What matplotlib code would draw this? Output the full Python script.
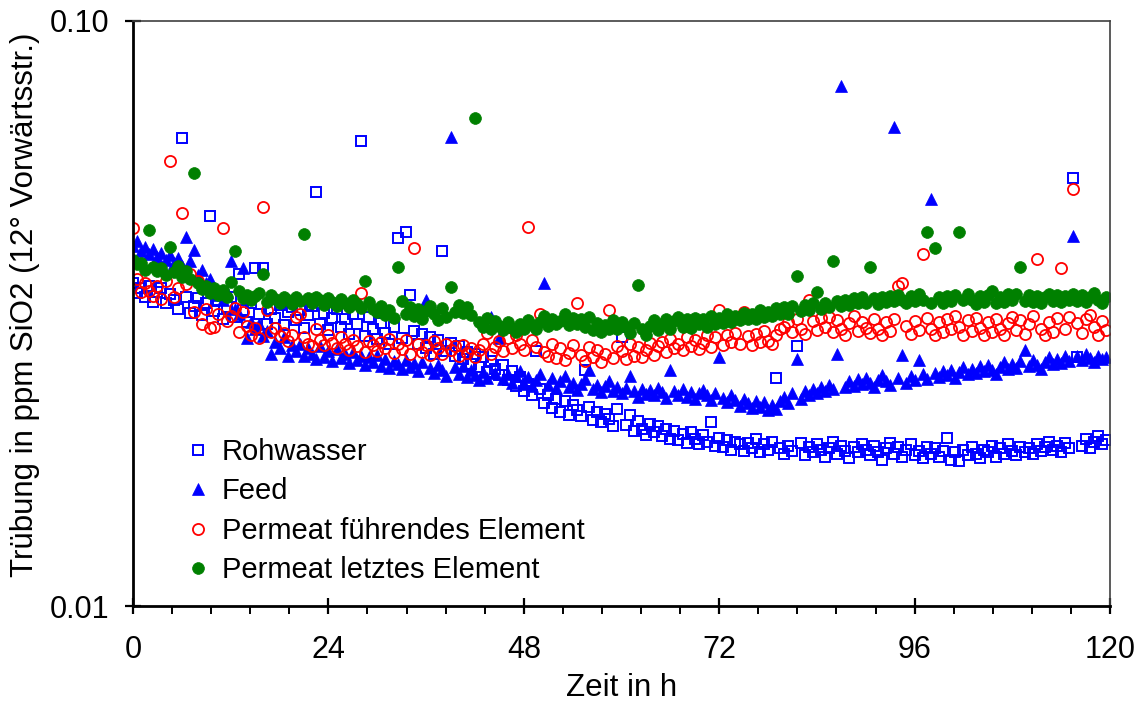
import numpy as np
import matplotlib
matplotlib.use("Agg")
import matplotlib.pyplot as plt
from matplotlib.ticker import FixedLocator, MultipleLocator, NullLocator

plt.rcParams['font.family'] = ['Liberation Sans', 'DejaVu Sans']

# Sampling every half hour, 0 ... 119.5 h
step_h = 0.5

rohwasser = [
    0.0356, 0.0343, 0.0349, 0.0337, 0.0352, 0.0331, 0.0344, 0.0350, 0.0329, 0.0341,
    0.0333, 0.0322, 0.0630, 0.0338, 0.0317, 0.0326, 0.0336, 0.0314, 0.0329, 0.0464,
    0.0319, 0.0333, 0.0309, 0.0324, 0.0338, 0.0312, 0.0370, 0.0321, 0.0306, 0.0330,
    0.0378, 0.0315, 0.0378, 0.0304, 0.0322, 0.0311, 0.0327, 0.0302, 0.0318, 0.0325,
    0.0308, 0.0320, 0.0299, 0.0314, 0.0326, 0.0510, 0.0303, 0.0317, 0.0296, 0.0311,
    0.0322, 0.0300, 0.0309, 0.0292, 0.0316, 0.0304, 0.0623, 0.0289, 0.0312, 0.0298,
    0.0286, 0.0305, 0.0293, 0.0280, 0.0300, 0.0426, 0.0287, 0.0436, 0.0340, 0.0295,
    0.0281, 0.0292, 0.0276, 0.0288, 0.0270, 0.0285, 0.0405, 0.0273, 0.0282, 0.0267,
    0.0278, 0.0264, 0.0272, 0.0259, 0.0270, 0.0256, 0.0266, 0.0251, 0.0262, 0.0254,
    0.0248, 0.0258, 0.0243, 0.0252, 0.0238, 0.0246, 0.0233, 0.0240, 0.0229, 0.0273,
    0.0235, 0.0222, 0.0229, 0.0218, 0.0226, 0.0215, 0.0224, 0.0212, 0.0221, 0.0216,
    0.0211, 0.0253, 0.0219, 0.0208, 0.0215, 0.0206, 0.0213, 0.0209, 0.0203, 0.0217,
    0.0288, 0.0204, 0.0212, 0.0199, 0.0207, 0.0201, 0.0196, 0.0205, 0.0198, 0.0203,
    0.0195, 0.0201, 0.0193, 0.0199, 0.0192, 0.0197, 0.0190, 0.0198, 0.0193, 0.0189,
    0.0196, 0.0191, 0.0206, 0.0188, 0.0194, 0.0187, 0.0192, 0.0185, 0.0191, 0.0189,
    0.0184, 0.0190, 0.0186, 0.0193, 0.0183, 0.0189, 0.0185, 0.0191, 0.0245, 0.0186,
    0.0182, 0.0188, 0.0184, 0.0278, 0.0190, 0.0181, 0.0187, 0.0183, 0.0189, 0.0185,
    0.0180, 0.0186, 0.0191, 0.0182, 0.0188, 0.0184, 0.0179, 0.0187, 0.0183, 0.0189,
    0.0185, 0.0181, 0.0188, 0.0183, 0.0178, 0.0186, 0.0190, 0.0182, 0.0187, 0.0180,
    0.0185, 0.0189, 0.0181, 0.0184, 0.0179, 0.0187, 0.0182, 0.0186, 0.0180, 0.0184,
    0.0194, 0.0178, 0.0183, 0.0177, 0.0185, 0.0181, 0.0187, 0.0182, 0.0179, 0.0185,
    0.0183, 0.0188, 0.0180, 0.0186, 0.0182, 0.0189, 0.0184, 0.0181, 0.0187, 0.0183,
    0.0186, 0.0182, 0.0189, 0.0184, 0.0187, 0.0191, 0.0185, 0.0188, 0.0183, 0.0190,
    0.0186, 0.0540, 0.0266, 0.0188, 0.0193, 0.0186, 0.0191, 0.0195, 0.0189, 0.0192,
]

feed = [
    0.0413, 0.0420, 0.0404, 0.0411, 0.0399, 0.0407, 0.0395, 0.0402, 0.0390, 0.0398,
    0.0386, 0.0394, 0.0381, 0.0427, 0.0389, 0.0406, 0.0368, 0.0376, 0.0356, 0.0362,
    0.0349, 0.0340, 0.0333, 0.0344, 0.0389, 0.0322, 0.0315, 0.0378, 0.0287, 0.0306,
    0.0298, 0.0303, 0.0289, 0.0295, 0.0270, 0.0283, 0.0276, 0.0288, 0.0268, 0.0279,
    0.0273, 0.0281, 0.0267, 0.0276, 0.0270, 0.0264, 0.0278, 0.0266, 0.0273, 0.0262,
    0.0275, 0.0265, 0.0270, 0.0260, 0.0272, 0.0263, 0.0268, 0.0258, 0.0266, 0.0261,
    0.0269, 0.0257, 0.0264, 0.0255, 0.0262, 0.0259, 0.0254, 0.0263, 0.0256, 0.0260,
    0.0252, 0.0261, 0.0333, 0.0255, 0.0250, 0.0258, 0.0253, 0.0247, 0.0634, 0.0256,
    0.0249, 0.0257, 0.0246, 0.0253, 0.0248, 0.0243, 0.0251, 0.0245, 0.0312, 0.0250,
    0.0287, 0.0244, 0.0249, 0.0241, 0.0247, 0.0252, 0.0240, 0.0246, 0.0238, 0.0243,
    0.0249, 0.0357, 0.0239, 0.0245, 0.0236, 0.0242, 0.0247, 0.0237, 0.0241, 0.0234,
    0.0240, 0.0244, 0.0253, 0.0235, 0.0239, 0.0232, 0.0238, 0.0242, 0.0233, 0.0237,
    0.0231, 0.0236, 0.0247, 0.0233, 0.0228, 0.0235, 0.0230, 0.0234, 0.0229, 0.0236,
    0.0232, 0.0227, 0.0253, 0.0233, 0.0229, 0.0235, 0.0228, 0.0232, 0.0226, 0.0231,
    0.0234, 0.0229, 0.0225, 0.0231, 0.0266, 0.0227, 0.0223, 0.0229, 0.0225, 0.0220,
    0.0226, 0.0222, 0.0218, 0.0224, 0.0219, 0.0223, 0.0216, 0.0221, 0.0217, 0.0224,
    0.0228, 0.0222, 0.0231, 0.0264, 0.0226, 0.0233, 0.0229, 0.0235, 0.0231, 0.0237,
    0.0233, 0.0239, 0.0235, 0.0270, 0.0774, 0.0237, 0.0242, 0.0238, 0.0244, 0.0240,
    0.0245, 0.0241, 0.0237, 0.0243, 0.0248, 0.0242, 0.0239, 0.0660, 0.0245, 0.0269,
    0.0241, 0.0247, 0.0243, 0.0263, 0.0249, 0.0244, 0.0496, 0.0250, 0.0246, 0.0252,
    0.0248, 0.0253, 0.0245, 0.0251, 0.0256, 0.0249, 0.0254, 0.0250, 0.0257, 0.0252,
    0.0258, 0.0253, 0.0249, 0.0256, 0.0261, 0.0254, 0.0259, 0.0255, 0.0262, 0.0274,
    0.0257, 0.0263, 0.0258, 0.0254, 0.0261, 0.0266, 0.0259, 0.0264, 0.0260, 0.0267,
    0.0262, 0.0429, 0.0268, 0.0263, 0.0270, 0.0265, 0.0261, 0.0268, 0.0264, 0.0266,
]

permeat_fuehrend = [
    0.0443, 0.0362, 0.0344, 0.0357, 0.0346, 0.0339, 0.0353, 0.0335, 0.0359, 0.0577,
    0.0337, 0.0349, 0.0470, 0.0355, 0.0370, 0.0318, 0.0360, 0.0304, 0.0322, 0.0299,
    0.0300, 0.0315, 0.0443, 0.0307, 0.0313, 0.0323, 0.0294, 0.0318, 0.0301, 0.0290,
    0.0299, 0.0287, 0.0481, 0.0320, 0.0294, 0.0299, 0.0289, 0.0293, 0.0284, 0.0290,
    0.0312, 0.0316, 0.0288, 0.0281, 0.0278, 0.0297, 0.0285, 0.0279, 0.0291, 0.0282,
    0.0276, 0.0288, 0.0280, 0.0274, 0.0285, 0.0278, 0.0343, 0.0272, 0.0284, 0.0279,
    0.0273, 0.0283, 0.0276, 0.0286, 0.0271, 0.0280, 0.0275, 0.0285, 0.0270, 0.0409,
    0.0281, 0.0272, 0.0279, 0.0269, 0.0284, 0.0276, 0.0270, 0.0281, 0.0274, 0.0278,
    0.0268, 0.0279, 0.0271, 0.0276, 0.0266, 0.0274, 0.0281, 0.0293, 0.0270, 0.0277,
    0.0284, 0.0273, 0.0287, 0.0276, 0.0290, 0.0280, 0.0274, 0.0445, 0.0285, 0.0277,
    0.0315, 0.0272, 0.0268, 0.0281, 0.0265, 0.0276, 0.0263, 0.0271, 0.0279, 0.0330,
    0.0269, 0.0262, 0.0277, 0.0266, 0.0274, 0.0261, 0.0270, 0.0320, 0.0265, 0.0278,
    0.0273, 0.0264, 0.0280, 0.0268, 0.0277, 0.0266, 0.0274, 0.0282, 0.0269, 0.0278,
    0.0283, 0.0272, 0.0286, 0.0276, 0.0281, 0.0274, 0.0288, 0.0278, 0.0285, 0.0275,
    0.0282, 0.0290, 0.0277, 0.0288, 0.0320, 0.0279, 0.0291, 0.0283, 0.0293, 0.0281,
    0.0318, 0.0289, 0.0279, 0.0292, 0.0283, 0.0295, 0.0284, 0.0280, 0.0291, 0.0297,
    0.0300, 0.0306, 0.0294, 0.0310, 0.0298, 0.0292, 0.0333, 0.0307, 0.0296, 0.0311,
    0.0300, 0.0312, 0.0294, 0.0308, 0.0297, 0.0291, 0.0305, 0.0313, 0.0295, 0.0306,
    0.0299, 0.0293, 0.0309, 0.0298, 0.0290, 0.0306, 0.0295, 0.0310, 0.0353, 0.0356,
    0.0301, 0.0292, 0.0307, 0.0296, 0.0400, 0.0311, 0.0298, 0.0290, 0.0306, 0.0294,
    0.0309, 0.0297, 0.0313, 0.0300, 0.0291, 0.0308, 0.0295, 0.0311, 0.0299, 0.0290,
    0.0306, 0.0294, 0.0310, 0.0298, 0.0291, 0.0305, 0.0312, 0.0296, 0.0308, 0.0292,
    0.0304, 0.0313, 0.0392, 0.0297, 0.0290, 0.0306, 0.0294, 0.0311, 0.0378, 0.0298,
    0.0312, 0.0516, 0.0305, 0.0293, 0.0309, 0.0314, 0.0300, 0.0291, 0.0307, 0.0296,
]

permeat_letzt = [
    0.0390, 0.0384, 0.0386, 0.0376, 0.0439, 0.0380, 0.0374, 0.0378, 0.0368, 0.0411,
    0.0372, 0.0381, 0.0365, 0.0374, 0.0362, 0.0550, 0.0356, 0.0348, 0.0353, 0.0343,
    0.0350, 0.0340, 0.0347, 0.0337, 0.0358, 0.0404, 0.0345, 0.0336, 0.0340, 0.0333,
    0.0339, 0.0343, 0.0370, 0.0331, 0.0340, 0.0335, 0.0330, 0.0338, 0.0333, 0.0328,
    0.0337, 0.0332, 0.0433, 0.0336, 0.0329, 0.0338, 0.0333, 0.0327, 0.0336, 0.0331,
    0.0326, 0.0335, 0.0330, 0.0325, 0.0333, 0.0328, 0.0323, 0.0360, 0.0331, 0.0322,
    0.0318, 0.0326, 0.0314, 0.0321, 0.0311, 0.0380, 0.0332, 0.0316, 0.0325, 0.0313,
    0.0322, 0.0310, 0.0319, 0.0326, 0.0315, 0.0308, 0.0323, 0.0312, 0.0351, 0.0318,
    0.0327, 0.0317, 0.0324, 0.0314, 0.0683, 0.0306, 0.0300, 0.0311, 0.0298, 0.0307,
    0.0301, 0.0296, 0.0306, 0.0299, 0.0294, 0.0304, 0.0298, 0.0308, 0.0302, 0.0297,
    0.0306, 0.0313, 0.0301, 0.0310, 0.0303, 0.0307, 0.0315, 0.0302, 0.0311, 0.0304,
    0.0309, 0.0300, 0.0312, 0.0296, 0.0305, 0.0294, 0.0302, 0.0297, 0.0308, 0.0298,
    0.0306, 0.0300, 0.0293, 0.0305, 0.0354, 0.0297, 0.0291, 0.0301, 0.0308, 0.0296,
    0.0303, 0.0310, 0.0298, 0.0307, 0.0312, 0.0300, 0.0309, 0.0299, 0.0311, 0.0304,
    0.0309, 0.0300, 0.0313, 0.0304, 0.0311, 0.0305, 0.0316, 0.0306, 0.0313, 0.0308,
    0.0317, 0.0309, 0.0315, 0.0310, 0.0320, 0.0312, 0.0318, 0.0313, 0.0323, 0.0315,
    0.0324, 0.0316, 0.0326, 0.0367, 0.0319, 0.0327, 0.0320, 0.0329, 0.0344, 0.0322,
    0.0330, 0.0324, 0.0389, 0.0332, 0.0326, 0.0334, 0.0327, 0.0336, 0.0329, 0.0337,
    0.0330, 0.0380, 0.0336, 0.0328, 0.0338, 0.0331, 0.0339, 0.0332, 0.0340, 0.0333,
    0.0329, 0.0339, 0.0332, 0.0341, 0.0334, 0.0435, 0.0330, 0.0410, 0.0338, 0.0329,
    0.0339, 0.0332, 0.0340, 0.0435, 0.0333, 0.0341, 0.0334, 0.0328, 0.0339, 0.0331,
    0.0340, 0.0346, 0.0330, 0.0338, 0.0331, 0.0341, 0.0334, 0.0342, 0.0380, 0.0332,
    0.0340, 0.0331, 0.0339, 0.0330, 0.0337, 0.0342, 0.0332, 0.0340, 0.0331, 0.0339,
    0.0334, 0.0342, 0.0332, 0.0340, 0.0331, 0.0338, 0.0343, 0.0333, 0.0330, 0.0337,
]

labels = ["Rohwasser", "Feed", "Permeat führendes Element", "Permeat letztes Element"]
x_ticks = [0, 24, 48, 72, 96, 120]
y_ticks = [0.01, 0.1]
y_tick_labels = ["0.01", "0.10"]

fig = plt.figure(figsize=(11.45, 7.06), dpi=100)
ax = fig.add_axes([133 / 1145, 100 / 706, 977 / 1145, 585 / 706])


def hours(values):
    return np.arange(len(values)) * step_h


ax.plot(hours(rohwasser), rohwasser, linestyle='none', marker='s', ms=7.5,
        mfc='none', mec='#0000ff', mew=1.4, label=labels[0])
ax.plot(hours(feed), feed, linestyle='none', marker='^', ms=9,
        mfc='#0000ff', mec='#0000ff', mew=0.5, label=labels[1])
ax.plot(hours(permeat_fuehrend), permeat_fuehrend, linestyle='none', marker='o', ms=8,
        mfc='none', mec='#ff0000', mew=1.3, label=labels[2])
ax.plot(hours(permeat_letzt), permeat_letzt, linestyle='none', marker='o', ms=8.5,
        mfc='#008000', mec='#008000', mew=0.5, label=labels[3])

ax.set_yscale('log')
ax.set_ylim(0.01, 0.1)
ax.set_xlim(0, 120)
ax.yaxis.set_major_locator(FixedLocator(y_ticks))
ax.yaxis.set_minor_locator(NullLocator())
ax.set_yticklabels(y_tick_labels)
ax.xaxis.set_major_locator(FixedLocator(x_ticks))
ax.xaxis.set_minor_locator(MultipleLocator(4.8))

ax.tick_params(axis='both', which='major', direction='inout', length=12, width=1.6,
               labelsize=22, color='black')
ax.tick_params(axis='x', which='major', pad=15)
ax.tick_params(axis='y', which='major', pad=11)
ax.tick_params(axis='x', which='minor', direction='out', length=6, width=1.4)

for side in ('left', 'bottom'):
    ax.spines[side].set_linewidth(2.0)
    ax.spines[side].set_color('black')
for side in ('top', 'right'):
    ax.spines[side].set_linewidth(1.2)
    ax.spines[side].set_color('#404040')

fig.text(25 / 1145, 1 - 305 / 706, "Trübung in ppm SiO2 (12° Vorwärtsstr.)",
         rotation=90, ha='center', va='center', fontsize=22.5)
fig.text(622 / 1145, 1 - 688 / 706, "Zeit in h", ha='center', va='center', fontsize=22.5)

ax.legend(loc='upper left', bbox_to_anchor=(0.0548, 0.287), frameon=False,
          fontsize=21, handlelength=0.8, handletextpad=0.4, borderpad=0,
          borderaxespad=0, labelspacing=0.39, numpoints=1)

fig.savefig("out.png", dpi=100)
